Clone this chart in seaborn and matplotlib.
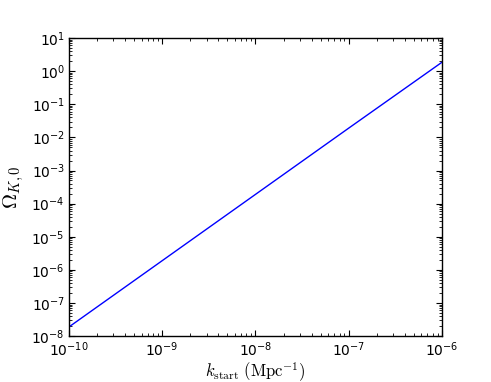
import matplotlib
matplotlib.use("Agg")
import matplotlib.pyplot as plt
import matplotlib.ticker as mticker
import seaborn as sns
import pandas as pd

# values (log-log straight line)
k_start = [1e-10, 1e-9, 1e-8, 1e-7, 1e-6]
omega_k0 = [1.9e-8, 1.9e-6, 1.9e-4, 1.9e-2, 1.85]

sns.set_style("ticks")
plt.rcParams["font.family"] = ["DejaVu Sans"]
plt.rcParams["mathtext.fontset"] = "dejavusans"
plt.rcParams["xtick.direction"] = "in"
plt.rcParams["ytick.direction"] = "in"
plt.rcParams["xtick.top"] = True
plt.rcParams["ytick.right"] = True
plt.rcParams["text.color"] = "black"
plt.rcParams["axes.labelcolor"] = "black"
plt.rcParams["xtick.color"] = "black"
plt.rcParams["ytick.color"] = "black"

df = pd.DataFrame({"k": k_start, "omega": omega_k0})

fig = plt.figure(figsize=(4.91, 3.82), dpi=100)
ax = fig.add_axes([0.1405, 0.12, 0.7595, 0.7805])
sns.lineplot(data=df, x="k", y="omega", ax=ax, color="blue", linewidth=1.0)
ax.set_xscale("log")
ax.set_yscale("log")
ax.set_xlim(1e-10, 1e-6)
ax.set_ylim(1e-8, 1e1)

for axis in (ax.xaxis, ax.yaxis):
    axis.set_major_locator(mticker.LogLocator(base=10, numticks=30))
    axis.set_minor_locator(mticker.LogLocator(base=10, subs=range(2, 10), numticks=30))
    axis.set_minor_formatter(mticker.NullFormatter())

ax.tick_params(which="major", length=4, width=0.8, labelsize=10, pad=3)
ax.tick_params(which="minor", length=2, width=0.6)
for s in ax.spines.values():
    s.set_linewidth(1.0)
    s.set_color("black")

ax.set_xlabel(r"$k_{\rm start}\ (\rm Mpc^{-1})$", fontsize=12, math_fontfamily="cm", labelpad=1)
ax.set_ylabel(r"$\Omega_{K,0}$", fontsize=15, math_fontfamily="cm", labelpad=4)

fig.savefig("out.png", dpi=100)
